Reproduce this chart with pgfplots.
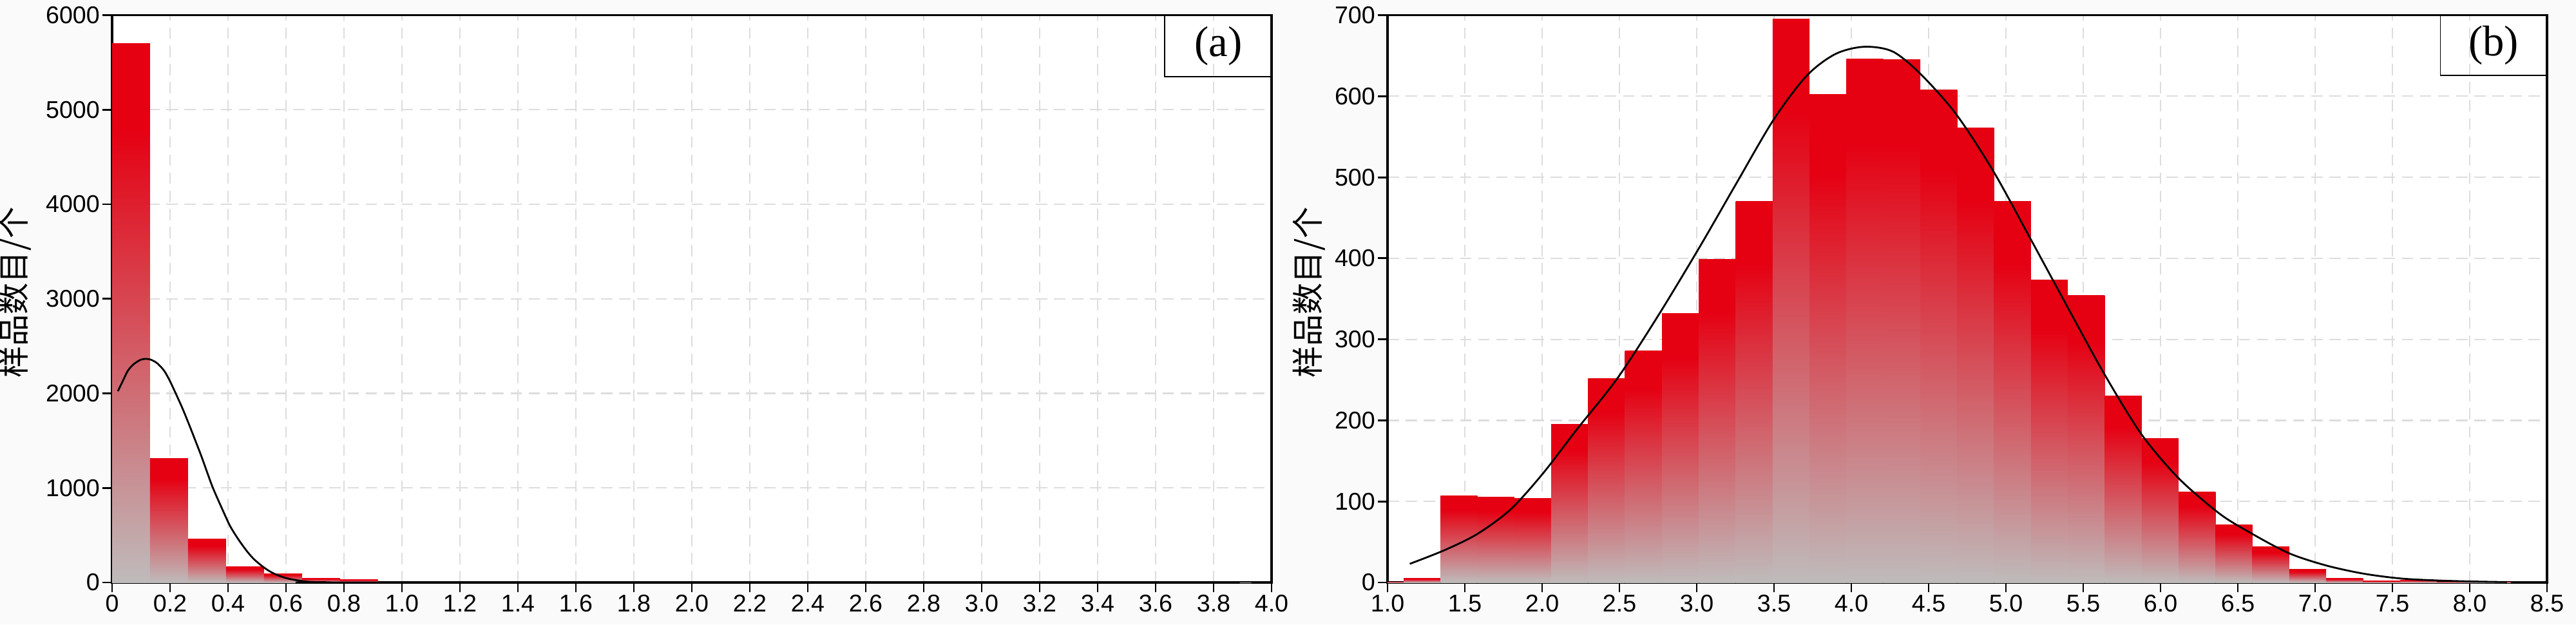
\documentclass[border=0pt]{standalone}
\usepackage{pgfplots}
\pgfplotsset{compat=1.18}
\usepackage{fontspec}
\setmainfont{Liberation Sans}
\newfontfamily\cjk{Noto Sans CJK SC}
\newfontfamily\tnr{Liberation Serif}

\definecolor{barred}{HTML}{E50012}
\definecolor{bargray}{HTML}{BFBBBB}
\definecolor{gridgray}{HTML}{DDDDDD}
\pgfdeclareverticalshading{barfade}{100bp}{color(0bp)=(bargray); color(25bp)=(bargray); color(67bp)=(barred); color(100bp)=(barred)}

\pgfplotsset{
  hist/.style={
    scale only axis, width=18cm, height=8.805cm,
    anchor=south west,
    axis background/.style={fill=white},
    axis line style={line width=1pt},
    tick align=outside, tick pos=left, major tick length=0.15cm,
    every tick/.style={black, line width=0.8pt},
    grid=major,
    major grid style={gridgray, line width=0.6pt, dash pattern=on 5pt off 3pt},
    ticklabel style={font=\fontsize{10.7}{12}\selectfont},
    xticklabel style={inner ysep=1pt},
    yticklabel style={inner xsep=1pt},
    /pgf/number format/assume math mode=true,
    /pgf/number format/1000 sep={},
    ymin=0,
  },
  bars/.style={ybar, draw=none, shading=barfade},
  fit/.style={black, line width=0.8pt, no markers, smooth},
}
% one plot per bar, so that each bar gets its own gradient
\newcommand\histbar[3]{\addplot[bars, bar width=#1] coordinates {(#2,#3)};}

\begin{document}
\begin{tikzpicture}
\fill[black!2] (0,0) rectangle (39.99,9.69);
\path[use as bounding box] (0,0) rectangle (39.99,9.69);

% (a)
\begin{axis}[hist,
  at={(1.74cm,0.65cm)},
  xmin=0, xmax=4, ymax=6000,
  xtick={0,0.2,0.4,0.6,0.8,1.0,1.2,1.4,1.6,1.8,2.0,2.2,2.4,2.6,2.8,3.0,3.2,3.4,3.6,3.8,4.0},
  xticklabels={0,0.2,0.4,0.6,0.8,1.0,1.2,1.4,1.6,1.8,2.0,2.2,2.4,2.6,2.8,3.0,3.2,3.4,3.6,3.8,4.0},
  ytick={0,1000,...,6000},
  ylabel={\cjk 样品数目/个},
  ylabel style={at={(axis description cs:-0.0839,0.511)}, anchor=center, font=\fontsize{14}{15}\selectfont},
]
\histbar{0.131}{0.0655}{5700}
\histbar{0.131}{0.1965}{1310}
\histbar{0.131}{0.3275}{462}
\histbar{0.131}{0.4585}{167}
\histbar{0.131}{0.5895}{95}
\histbar{0.131}{0.7205}{45}
\histbar{0.131}{0.8515}{32}
\histbar{0.131}{3.8645}{2}
\addplot[fit] coordinates {
  (0.020,2023) (0.040,2150) (0.055,2242) (0.075,2310) (0.099,2356)
  (0.117,2365) (0.134,2356) (0.155,2320) (0.179,2242) (0.198,2140)
  (0.218,2010) (0.243,1840) (0.268,1652) (0.288,1495) (0.308,1336)
  (0.328,1165) (0.348,999) (0.378,790) (0.407,598) (0.437,450)
  (0.467,324) (0.490,245) (0.516,177) (0.540,125) (0.566,84)
  (0.606,42) (0.675,8) (0.750,2) (0.850,0) (3.890,0)
};
\draw[line width=0.5pt] (rel axis cs:0.9078,0.8915) rectangle (rel axis cs:1,1);
\node[font=\tnr\fontsize{19}{20}\selectfont] at (rel axis cs:0.954,0.946) {(a)};
\end{axis}

% (b)
\begin{axis}[hist,
  at={(21.54cm,0.65cm)},
  xmin=1, xmax=8.5, ymax=700,
  xtick={1,1.5,2,2.5,3,3.5,4,4.5,5,5.5,6,6.5,7,7.5,8,8.5},
  xticklabel style={/pgf/number format/.cd, fixed, fixed zerofill, precision=1},
  ytick={0,100,...,700},
  ylabel={\cjk 样品数目/个},
  ylabel style={at={(axis description cs:-0.0678,0.511)}, anchor=center, font=\fontsize{14}{15}\selectfont},
]
\histbar{0.2387}{0.9847}{1}
\histbar{0.2387}{1.2234}{5}
\histbar{0.2387}{1.4620}{107}
\histbar{0.2387}{1.7007}{105}
\histbar{0.2387}{1.9394}{104}
\histbar{0.2387}{2.1781}{195}
\histbar{0.2387}{2.4168}{252}
\histbar{0.2387}{2.6555}{286}
\histbar{0.2387}{2.8942}{332}
\histbar{0.2387}{3.1329}{399}
\histbar{0.2387}{3.3716}{470}
\histbar{0.2387}{3.6103}{695}
\histbar{0.2387}{3.8490}{602}
\histbar{0.2387}{4.0877}{646}
\histbar{0.2387}{4.3264}{645}
\histbar{0.2387}{4.5651}{608}
\histbar{0.2387}{4.8038}{561}
\histbar{0.2387}{5.0425}{470}
\histbar{0.2387}{5.2812}{373}
\histbar{0.2387}{5.5199}{354}
\histbar{0.2387}{5.7586}{230}
\histbar{0.2387}{5.9973}{178}
\histbar{0.2387}{6.2360}{112}
\histbar{0.2387}{6.4747}{71}
\histbar{0.2387}{6.7134}{44}
\histbar{0.2387}{6.9521}{16}
\histbar{0.2387}{7.1908}{5}
\histbar{0.2387}{7.4295}{2}
\histbar{0.2387}{7.6682}{3}
\histbar{0.2387}{7.9069}{1}
\histbar{0.2387}{8.1456}{1}
\addplot[fit] coordinates {
  (1.144,23) (1.370,40) (1.582,60) (1.795,90) (2.003,134)
  (2.221,188) (2.487,252) (2.753,330) (3.019,414) (3.258,493)
  (3.497,571) (3.710,625) (3.896,652) (4.082,661) (4.269,655)
  (4.455,626) (4.681,577) (4.920,507) (5.159,424) (5.398,340)
  (5.637,257) (5.876,183) (6.115,129) (6.381,85) (6.593,60)
  (6.832,36) (7.071,21) (7.310,11) (7.549,5) (7.788,2.5)
  (8.027,1.2) (8.240,0.5)
};
\draw[line width=0.5pt] (rel axis cs:0.908,0.894) rectangle (rel axis cs:1,1);
\node[font=\tnr\fontsize{19}{20}\selectfont] at (rel axis cs:0.954,0.947) {(b)};
\end{axis}
\end{tikzpicture}
\end{document}
